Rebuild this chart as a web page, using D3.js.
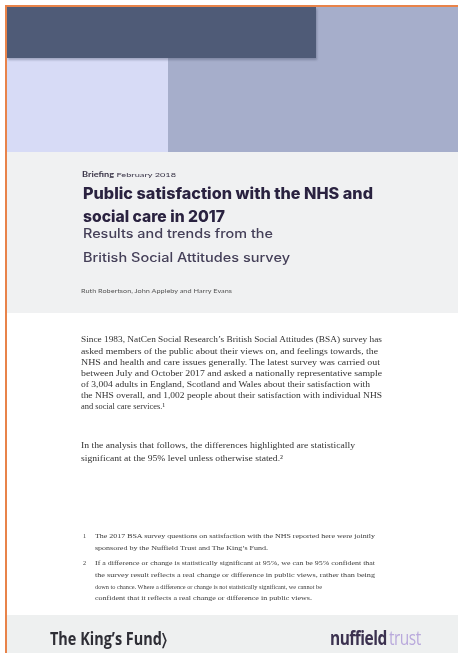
<!DOCTYPE html>
<html>
<head>
<meta charset="utf-8">
<script src="https://cdn.jsdelivr.net/npm/d3@7"></script>
<style>
  body { margin: 0; background: #fff; }
  svg { display: block; }
</style>
</head>
<body>
<div id="chart"></div>
<script>
// text content of the cover
const kicker = ["Briefing", " February 2018"];
const titleLines = ["Public satisfaction with the NHS and", "social care in 2017"];
const subtitleLines = ["Results and trends from the", "British Social Attitudes survey"];
const authors = "Ruth Robertson, John Appleby and Harry Evans";
const introLines = [
    "Since 1983, NatCen Social Research\u2019s British Social Attitudes (BSA) survey has",
    "asked members of the public about their views on, and feelings towards, the",
    "NHS and health and care issues generally. The latest survey was carried out",
    "between July and October 2017 and asked a nationally representative sample",
    "of 3,004 adults in England, Scotland and Wales about their satisfaction with",
    "the NHS overall, and 1,002 people about their satisfaction with individual NHS",
    "and social care services.\u00b9"
];
const analysisLines = [
    "In the analysis that follows, the differences highlighted are statistically",
    "significant at the 95% level unless otherwise stated.\u00b2"
];
const footnoteNums = ["1", "2"];
const footnoteLines = [
    ["The 2017 BSA survey questions on satisfaction with the NHS reported here were jointly",
     "sponsored by the Nuffield Trust and The King\u2019s Fund."],
    ["If a difference or change is statistically significant at 95%, we can be 95% confident that",
     "the survey result reflects a real change or difference in public views, rather than being",
     "down to chance. Where a difference or change is not statistically significant, we cannot be",
     "confident that it reflects a real change or difference in public views."]
];
const logoLeft = "The King\u2019s Fund\u232A";
const logoRight = ["nuffield", "trust"];

const width = 458, height = 653;

const svg = d3.select("#chart")
    .append("svg")
    .attr("width", width)
    .attr("height", height);

const defs = svg.append("defs");
defs.append("filter").attr("id", "soft")
    .append("feGaussianBlur").attr("stdDeviation", 0.55);
defs.append("filter").attr("id", "softer")
    .append("feGaussianBlur").attr("stdDeviation", 0.35);
defs.append("filter").attr("id", "shadow")
    .append("feGaussianBlur").attr("stdDeviation", 1.2);

// page blocks
svg.append("rect").attr("x", 7).attr("y", 152).attr("width", width).attr("height", 161).attr("fill", "#f0f1f2");
svg.append("rect").attr("x", 7).attr("y", 615).attr("width", width).attr("height", 40).attr("fill", "#eef0f0");
svg.append("rect").attr("x", 168).attr("y", 7).attr("width", width).attr("height", 145).attr("fill", "#a6aecb");
svg.append("rect").attr("x", 7).attr("y", 58).attr("width", 161).attr("height", 94).attr("fill", "#d7dbf6");
svg.append("rect").attr("x", 8).attr("y", 9).attr("width", 309).attr("height", 51)
    .attr("fill", "#3c4560").attr("opacity", 0.35).attr("filter", "url(#shadow)");
svg.append("rect").attr("x", 7).attr("y", 7).attr("width", 309).attr("height", 51).attr("fill", "#4f5b77");

// orange frame
svg.append("rect").attr("x", 5).attr("y", 5).attr("width", width).attr("height", 2).attr("fill", "#e8834a");
svg.append("rect").attr("x", 5).attr("y", 5).attr("width", 2).attr("height", height).attr("fill", "#e8834a");

// heading
const head = svg.append("g").attr("filter", "url(#softer)");
const k = head.append("text").attr("x", 82).attr("y", 177)
    .attr("font-family", "Lato, sans-serif").attr("font-size", 6.5).attr("fill", "#3a3548")
    .attr("textLength", 94).attr("lengthAdjust", "spacingAndGlyphs");
k.selectAll("tspan").data(kicker).enter().append("tspan")
    .attr("font-weight", (d, i) => i === 0 ? 700 : 400)
    .text(d => d);

const titleWidths = [290, 142];
head.selectAll(".title").data(titleLines).enter().append("text")
    .attr("class", "title")
    .attr("x", 83).attr("y", (d, i) => 199 + i * 23)
    .attr("font-family", "Inter, sans-serif").attr("font-weight", 800)
    .attr("font-size", 15.5).attr("fill", "#2a2340")
    .attr("textLength", (d, i) => titleWidths[i]).attr("lengthAdjust", "spacingAndGlyphs")
    .text(d => d);

const subWidths = [190, 207];
head.selectAll(".sub").data(subtitleLines).enter().append("text")
    .attr("class", "sub")
    .attr("x", 83).attr("y", (d, i) => 238 + i * 24)
    .attr("font-family", "Inter, sans-serif").attr("font-weight", 500)
    .attr("font-size", 12.5).attr("fill", "#443f58")
    .attr("textLength", (d, i) => subWidths[i]).attr("lengthAdjust", "spacingAndGlyphs")
    .text(d => d);

head.append("text").attr("x", 81).attr("y", 293)
    .attr("font-family", "Lato, sans-serif").attr("font-size", 6).attr("fill", "#555")
    .attr("textLength", 151).attr("lengthAdjust", "spacingAndGlyphs")
    .text(authors);

// body text
const body = svg.append("g").attr("filter", "url(#soft)")
    .attr("font-family", "'Liberation Serif', serif").attr("font-size", 8.2).attr("fill", "#333");

const introWidths = [301, 297, 299, 301, 289, 301, 84];
const introY = [342, 354, 365, 375.5, 386.5, 398, 409];
body.selectAll(".intro").data(introLines).enter().append("text")
    .attr("x", 81).attr("y", (d, i) => introY[i])
    .attr("textLength", (d, i) => introWidths[i]).attr("lengthAdjust", "spacingAndGlyphs")
    .text(d => d);

const analysisWidths = [274, 202];
body.selectAll(".analysis").data(analysisLines).enter().append("text")
    .attr("x", 81).attr("y", (d, i) => 447.5 + i * 13)
    .attr("textLength", (d, i) => analysisWidths[i]).attr("lengthAdjust", "spacingAndGlyphs")
    .text(d => d);

const fnY = [[537.5, 549.5], [564.5, 577, 589, 599.5]];
const fnWidths = [[280, 173], [280, 280, 227, 217]];
const fn = body.append("g").attr("font-size", 6.2).attr("fill", "#3a3a3a");
footnoteNums.forEach((n, j) => {
    fn.append("text").attr("x", 83).attr("y", fnY[j][0]).text(n);
    fn.selectAll(".fn" + j).data(footnoteLines[j]).enter().append("text")
        .attr("x", 95).attr("y", (d, i) => fnY[j][i])
        .attr("textLength", (d, i) => fnWidths[j][i]).attr("lengthAdjust", "spacingAndGlyphs")
        .text(d => d);
});

// footer logos
const foot = svg.append("g").attr("filter", "url(#softer)");
foot.append("text").attr("x", 50).attr("y", 645)
    .attr("font-family", "'Open Sans', sans-serif").attr("font-weight", 700)
    .attr("font-size", 17).attr("fill", "#2e2e36")
    .attr("textLength", 117).attr("lengthAdjust", "spacingAndGlyphs")
    .text(logoLeft);

// nuffieldtrust word mark: natural size, stretched tall
const nt = foot.append("g").attr("transform", "translate(330,645) scale(1,1.3)");
const ntX = [0, 59];
nt.selectAll(".nt").data(logoRight).enter().append("text")
    .attr("x", (d, i) => ntX[i]).attr("y", 0)
    .attr("font-family", "'Open Sans', sans-serif").attr("font-size", 15.5)
    .attr("letter-spacing", -0.5)
    .attr("font-weight", (d, i) => i === 0 ? 700 : 400)
    .attr("fill", (d, i) => i === 0 ? "#3b3050" : "#b9a9dc")
    .text(d => d);
</script>
</body>
</html>
